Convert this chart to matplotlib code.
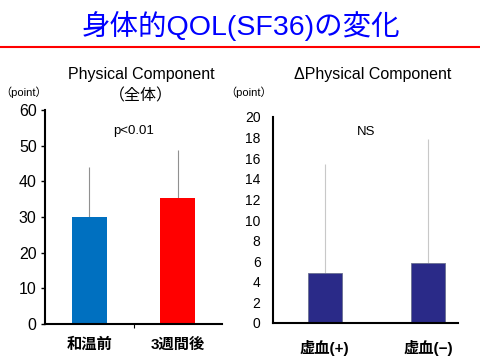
import matplotlib
matplotlib.use("Agg")
import matplotlib.pyplot as plt
from matplotlib.lines import Line2D

plt.rcParams['font.family'] = ['Liberation Sans', 'Noto Sans CJK JP', 'DejaVu Sans']

# Data
left_categories = ['和温前', '3週間後']
left_values = [30.0, 35.2]
left_errors = [14.0, 13.5]
left_colors = ['#0070c0', '#ff0000']

right_categories = ['虚血(+)', '虚血(−)']
right_values = [4.9, 5.8]
right_errors = [10.5, 12.1]

W, H = 480, 360
fig = plt.figure(figsize=(4.8, 3.6), dpi=100)

def rect(x0, y0, x1, y1):
    return [x0 / W, 1 - y1 / H, (x1 - x0) / W, (y1 - y0) / H]

# Title and red line
fig.text(241 / W, 1 - 26 / H, '身体的QOL(SF36)の変化', ha='center', va='center',
         fontsize=20.5, color='#0000ff')
fig.add_artist(Line2D([0, 1], [1 - 47 / H, 1 - 47 / H], color='#ff0000', lw=1.5))

# Left chart
ax1 = fig.add_axes(rect(45, 110, 222, 324))
ax1.bar([0, 1], left_values, width=0.4, color=left_colors, zorder=2)
ax1.errorbar([0, 1], left_values, yerr=[[0, 0], left_errors], fmt='none',
             ecolor='#909090', elinewidth=0.8, capsize=0, zorder=1)
ax1.set_xlim(-0.5, 1.5)
ax1.set_ylim(0, 60)
ax1.set_yticks(range(0, 61, 10))
ax1.tick_params(axis='y', labelsize=11.5, length=3, width=1, pad=3)
ax1.set_xticks([0, 1])
ax1.set_xticklabels(left_categories, fontsize=11, fontweight='bold')
ax1.tick_params(axis='x', length=0, pad=10)
ax1.set_xticks([0.5], minor=True)
ax1.tick_params(axis='x', which='minor', length=3, width=0.8)
for s in ['top', 'right']:
    ax1.spines[s].set_visible(False)
for s in ['left', 'bottom']:
    ax1.spines[s].set_linewidth(1.5)
ax1.text(0.5, 54, 'p<0.01', ha='center', va='center', fontsize=9.5)

fig.text(141 / W, 1 - 74 / H, 'Physical Component', ha='center', va='center', fontsize=11.5)
fig.text(141 / W, 1 - 96 / H, '（全体）', ha='center', va='center', fontsize=11.5)
fig.text(24 / W, 1 - 92 / H, '（point）', ha='center', va='center', fontsize=8)

# Right chart
ax2 = fig.add_axes(rect(273, 117, 458, 323))
ax2.bar([0, 1], right_values, width=0.33, color='#2a2a88', edgecolor='#6a7090',
        linewidth=0.6, zorder=2)
ax2.errorbar([0, 1], right_values, yerr=[[0, 0], right_errors], fmt='none',
             ecolor='#c8c8c8', elinewidth=0.8, capsize=0, zorder=1)
ax2.set_xlim(-0.5, 1.286)
ax2.set_ylim(0, 20)
ax2.set_yticks(range(0, 21, 2))
ax2.tick_params(axis='y', labelsize=10, length=0, pad=9)
ax2.set_xticks([0, 1])
ax2.set_xticklabels(right_categories, fontsize=11, fontweight='bold')
ax2.tick_params(axis='x', length=0, pad=12)
for s in ['top', 'right']:
    ax2.spines[s].set_visible(False)
for s in ['left', 'bottom']:
    ax2.spines[s].set_linewidth(1.5)
ax2.text(0.4, 18.5, 'NS', ha='center', va='center', fontsize=9.5)

fig.text(373 / W, 1 - 74 / H, 'ΔPhysical Component', ha='center', va='center', fontsize=11.5)
fig.text(249 / W, 1 - 92 / H, '（point）', ha='center', va='center', fontsize=8)

fig.savefig('out.png', dpi=100)
